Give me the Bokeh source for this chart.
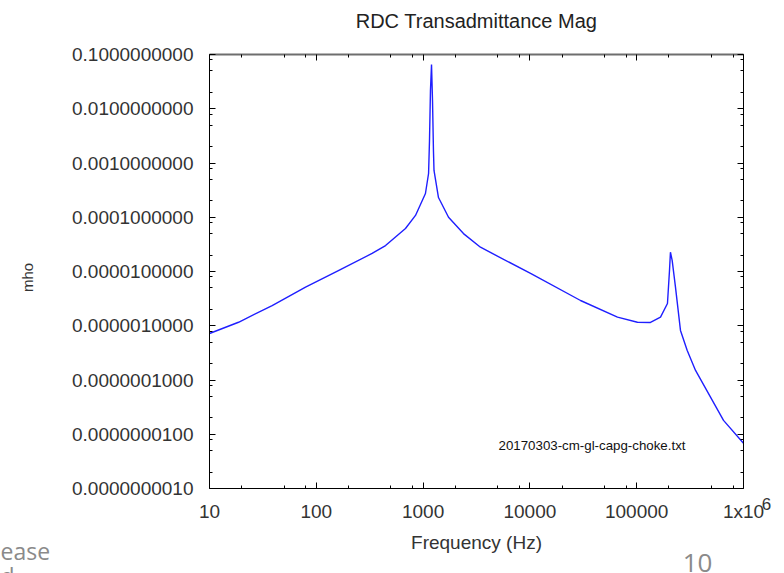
import math
from bokeh.plotting import figure
from bokeh.models import (Range1d, FixedTicker, LogAxis, CustomJSTickFormatter, Label)
from bokeh.embed import file_html
from bokeh.resources import INLINE

# Transadmittance magnitude sweep (frequency in Hz, magnitude in mho)
freq_hz = [10, 18.7, 38.6, 79.3, 161, 333, 445, 684, 849, 1052,
           1125, 1148, 1172, 1199, 1225, 1250, 1265, 1393, 1730, 2388,
           3443, 10140, 29790, 66070, 101600, 134600, 167100, 194100, 202800, 207000,
           214800, 230700, 257000, 297200, 355600, 650000, 1000000]
mag_mho = [7.2e-7, 1.16e-6, 2.36e-6, 5.14e-6, 1.04e-5, 2.15e-5, 3.01e-5, 6.21e-5, 1.08e-4, 2.74e-4,
           6.4e-4, 2.6e-3, 2.17e-2, 6.55e-2, 1.42e-2, 1.7e-3, 7.3e-4, 2.31e-4, 1.0e-4, 5.0e-5,
           2.8e-5, 9.2e-6, 2.92e-6, 1.44e-6, 1.16e-6, 1.15e-6, 1.44e-6, 2.57e-6, 1.04e-5, 2.27e-5,
           1.6e-5, 5.14e-6, 8.2e-7, 3.5e-7, 1.5e-7, 1.8e-8, 6.8e-9]

# Axis ticks and their labels
x_major = [10, 100, 1000, 10000, 100000, 1000000]
x_tick_labels = ["10", "100", "1000", "10000", "100000", "1x10"]
y_major = [1e-9, 1e-8, 1e-7, 1e-6, 1e-5, 1e-4, 1e-3, 1e-2, 1e-1]
y_tick_labels = ["0.0000000010", "0.0000000100", "0.0000001000", "0.0000010000",
                 "0.0000100000", "0.0001000000", "0.0010000000", "0.0100000000",
                 "0.1000000000"]
minor_steps = [2, 5, 8]

x_minor = [m * d for d in x_major[:-1] for m in minor_steps]
y_minor = [m * d for d in y_major[:-1] for m in minor_steps]

X0, X1 = x_major[0], x_major[-1]
Y0, Y1 = y_major[0], y_major[-1]

FONT = "Liberation Sans"
TXT = "#333333"

p = figure(width=784, height=573, x_axis_type="log", y_axis_type="log",
           x_range=Range1d(X0, X1), y_range=Range1d(Y0, Y1),
           output_backend="svg", toolbar_location=None,
           min_border_left=209, min_border_right=41,
           min_border_top=54, min_border_bottom=85)
p.grid.visible = False
p.outline_line_color = None
p.background_fill_color = "white"
p.border_fill_color = "white"
p.title.text = ""

xticker = FixedTicker(ticks=x_major, minor_ticks=x_minor)
yticker = FixedTicker(ticks=y_major, minor_ticks=y_minor)

x_fmt = CustomJSTickFormatter(args=dict(labels=x_tick_labels),
                              code="return labels[Math.round(Math.log10(tick)) - 1];")
y_fmt = CustomJSTickFormatter(args=dict(labels=y_tick_labels),
                              code="return labels[Math.round(Math.log10(tick)) + 9];")
blank_fmt = CustomJSTickFormatter(code="return '';")


def style_axis(ax, ticker, line_color="black", line_width=1):
    ax.ticker = ticker
    ax.major_tick_in = 6
    ax.major_tick_out = 0
    ax.minor_tick_in = 3
    ax.minor_tick_out = 0
    ax.axis_line_color = line_color
    ax.axis_line_width = line_width
    ax.major_tick_line_color = "black"
    ax.minor_tick_line_color = "black"
    ax.major_label_text_font = FONT
    ax.major_label_text_font_size = "19px"
    ax.major_label_text_color = TXT
    ax.axis_label_text_font = FONT
    ax.axis_label_text_font_style = "normal"
    ax.axis_label_text_color = TXT


xb = p.xaxis[0]
style_axis(xb, xticker)
xb.formatter = x_fmt
xb.major_label_standoff = 12
xb.axis_label = "Frequency (Hz)"
xb.axis_label_text_font_size = "19px"
xb.axis_label_standoff = 7

yl = p.yaxis[0]
style_axis(yl, yticker)
yl.formatter = y_fmt
yl.major_label_standoff = 16

xt = LogAxis()
style_axis(xt, xticker, line_color="#6e6e6e", line_width=2)
xt.formatter = blank_fmt
xt.major_label_text_font_size = "1px"
xt.major_label_standoff = 0
p.add_layout(xt, "above")

yr = LogAxis()
style_axis(yr, yticker)
yr.formatter = blank_fmt
yr.major_label_text_font_size = "1px"
yr.major_label_standoff = 0
p.add_layout(yr, "right")

p.line(freq_hz, mag_mho, line_color="#1f1fff", line_width=1.4)

# source file note inside the plot
p.add_layout(Label(x=X1, y=Y0, x_offset=-58, y_offset=43,
                   text="20170303-cm-gl-capg-choke.txt",
                   text_align="right", text_baseline="middle",
                   text_font=FONT, text_font_size="13.3px", text_color="#111111"))

# texts outside the frame live in the side panels so they are not clipped;
# their positions are anchored to the frame corners
p.add_layout(Label(x=X0, y=Y1, x_offset=267, y_offset=34,
                   text="RDC Transadmittance Mag",
                   text_align="center", text_baseline="middle",
                   text_font=FONT, text_font_size="20px", text_color="#222222"), "above")
p.add_layout(Label(x=X0, y=Y0, x_offset=-182, y_offset=211, text="mho", angle=math.pi / 2,
                   text_align="center", text_baseline="middle",
                   text_font=FONT, text_font_size="15px", text_color=TXT), "above")

# superscript exponent of the last frequency label
p.add_layout(Label(x=X1, y=Y0, x_offset=23, y_offset=-15, text="6",
                   text_align="center", text_baseline="middle",
                   text_font=FONT, text_font_size="17px", text_color=TXT), "below")

# slide text around the chart
SLIDE = "#8a8a8a"
p.add_layout(Label(x=X0, y=Y0, x_offset=-209, y_offset=-75, text="ease\nd",
                   text_align="left", text_baseline="alphabetic", text_line_height=0.8,
                   text_font="Open Sans", text_font_size="23px", text_color=SLIDE), "left")
p.add_layout(Label(x=X0, y=Y0, x_offset=488, y_offset=-74, text="10",
                   text_align="center", text_baseline="alphabetic",
                   text_font="Open Sans", text_font_size="26px", text_color=SLIDE), "right")

open("out.html", "w").write(file_html(p, INLINE))
